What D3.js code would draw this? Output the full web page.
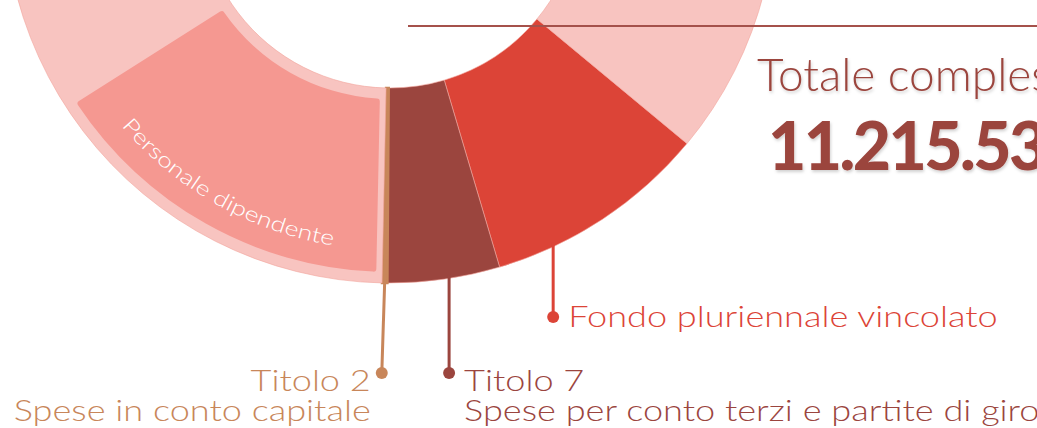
<!DOCTYPE html>
<html>
<head>
<meta charset="utf-8">
<script src="https://cdn.jsdelivr.net/npm/d3@7"></script>
<style>
  body { margin: 0; background: #fff; overflow: hidden; }
  svg { display: block; font-family: "Lato", sans-serif; }
</style>
</head>
<body>
<div id="chart"></div>
<script>
const width = 1037;
const height = 428;

// dati
const categories = ["Fondo pluriennale vincolato", "Titolo 7", "Titolo 2", "Titolo 1"];
const subtitles = ["", "Spese per conto terzi e partite di giro", "Spese in conto capitale", "Spese correnti"];
const values = [1053100, 526000, 24700, 9611732];
const colors = ["#dc4437", "#9b453e", "#c8865a", "#f8c4c0"];
const subCategory = "Personale dipendente";
const subValue = 1760000;
const totalLabel = "Totale complessivo";

// layout
const cx = 390, cy = -103;
const rOuter = 386, rInner = 191;
const startDeg = 129.7;
const stretch = 1.245; // il font originale e' piu' largo
const labelCfg = [
  { at: 0.74, dotY: 317, side: "right", dx: 0 },
  { at: 0.45, dotY: 373, side: "right", dx: 0 },
  { at: 0.5, dotY: 373, side: "left", dx: -3 },
  null
];

const total = d3.sum(values);
const a0 = startDeg * Math.PI / 180;

const svg = d3.select("#chart").append("svg")
  .attr("width", width)
  .attr("height", height);

const defs = svg.append("defs");
defs.append("filter").attr("id", "ombra")
  .attr("x", "-10%").attr("y", "-20%").attr("width", "130%").attr("height", "150%")
  .append("feDropShadow")
  .attr("dx", 1).attr("dy", 2).attr("stdDeviation", 1.5)
  .attr("flood-color", "#000").attr("flood-opacity", 0.18);

function allarga(sel) {
  const len = sel.node().getComputedTextLength();
  sel.attr("textLength", len * stretch).attr("lengthAdjust", "spacingAndGlyphs");
  return sel;
}

const g = svg.append("g").attr("transform", `translate(${cx},${cy})`);

const pie = d3.pie().sort(null).value(d => d).startAngle(a0).endAngle(a0 + 2 * Math.PI);
const arcs = pie(values);

const arc = d3.arc().innerRadius(rInner).outerRadius(rOuter);

g.selectAll("path.slice")
  .data(arcs)
  .enter().append("path")
  .attr("class", "slice")
  .attr("d", arc)
  .attr("fill", (d, i) => colors[i])
  .attr("stroke", (d, i) => i === 2 ? colors[2] : "#f2a49c")
  .attr("stroke-width", (d, i) => i === 2 ? 2.5 : 0.6);

// sotto-voce dentro Titolo 1
const t1 = arcs[3];
const angle = d3.scaleLinear().domain([0, total]).range([0, 2 * Math.PI]);
const sub = { startAngle: t1.startAngle, endAngle: t1.startAngle + angle(subValue) };

const subArc = d3.arc()
  .innerRadius(202).outerRadius(375)
  .padRadius(300).padAngle(12 / 300)
  .cornerRadius(3);

g.append("path")
  .attr("d", subArc(sub))
  .attr("fill", "#f59891");

const pt = (a, r) => [r * Math.sin(a), -r * Math.cos(a)];
const rText = 353;
const pS = pt(sub.startAngle, rText), pE = pt(sub.endAngle, rText);
defs.append("path")
  .attr("id", "percorso")
  .attr("d", `M${pE[0] + cx},${pE[1] + cy} A${rText},${rText} 0 0 0 ${pS[0] + cx},${pS[1] + cy}`);

const tp = svg.append("text")
  .attr("fill", "#fff")
  .attr("font-size", 21)
  .attr("font-weight", 300)
  .append("textPath")
  .attr("href", "#percorso")
  .attr("startOffset", "50%")
  .attr("text-anchor", "middle")
  .text(subCategory);
tp.attr("textLength", 248).attr("lengthAdjust", "spacingAndGlyphs");

// linea orizzontale
svg.append("line")
  .attr("x1", 408).attr("x2", width)
  .attr("y1", 26).attr("y2", 26)
  .attr("stroke", "#a5514b")
  .attr("stroke-width", 1.8);

// etichette con linee guida
arcs.forEach((d, i) => {
  const c = labelCfg[i];
  if (!c) return;
  const a = d.startAngle + (d.endAngle - d.startAngle) * c.at;
  const p = pt(a, rOuter - 4);
  const x0 = p[0] + cx, y0 = p[1] + cy;
  const x1 = x0 + c.dx;
  svg.append("line")
    .attr("x1", x0).attr("y1", y0)
    .attr("x2", x1).attr("y2", c.dotY)
    .attr("stroke", colors[i])
    .attr("stroke-width", 3);
  svg.append("circle")
    .attr("cx", x1).attr("cy", c.dotY).attr("r", 6)
    .attr("fill", colors[i]);

  const tx = c.side === "right" ? x1 + 15 : x1 - 11;
  const firstY = i === 0 ? c.dotY + 10 : c.dotY + 18;
  const lines = subtitles[i] ? [categories[i], subtitles[i]] : [categories[i]];
  lines.forEach((txt, k) => {
    const t = svg.append("text")
      .attr("x", tx).attr("y", firstY + k * 30)
      .attr("fill", colors[i])
      .attr("font-size", 29)
      .attr("font-weight", 300)
      .attr("text-anchor", c.side === "right" ? "start" : "end")
      .text(txt);
    allarga(t);
  });
});

// totale
svg.append("text")
  .attr("x", 757).attr("y", 91)
  .attr("fill", "#9b453e")
  .attr("font-size", 46)
  .attr("font-weight", 300)
  .attr("filter", "url(#ombra)")
  .text(totalLabel);

svg.append("text")
  .attr("x", 768).attr("y", 170)
  .attr("fill", "#9b453e")
  .attr("font-size", 66)
  .attr("font-weight", 900)
  .attr("letter-spacing", -2.5)
  .attr("filter", "url(#ombra)")
  .text(d3.format(",")(total).replace(/,/g, "."));
</script>
</body>
</html>
